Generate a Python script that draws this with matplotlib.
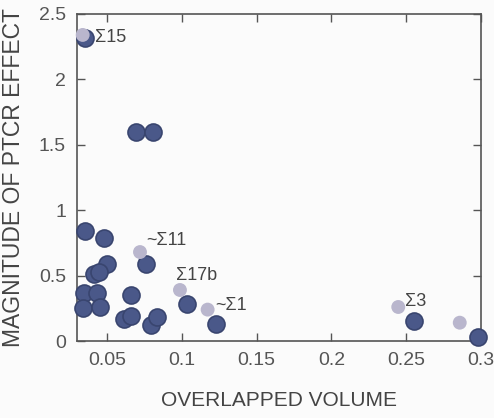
import matplotlib
matplotlib.use("Agg")
import matplotlib.pyplot as plt

plt.rcParams['font.family'] = ['Liberation Sans', 'DejaVu Sans']

# --- データ: 濃い点 (計算値) ---
dark_x = [0.0353, 0.0694, 0.0808, 0.0353, 0.0478, 0.0759, 0.0502, 0.0416, 0.0449,
          0.0347, 0.0431, 0.0661, 0.0338, 0.0454, 0.0616, 0.0661, 0.0792, 0.0832,
          0.1033, 0.1226, 0.2554, 0.2977]
dark_y = [2.32, 1.60, 1.60, 0.84, 0.79, 0.59, 0.59, 0.51, 0.53,
          0.37, 0.37, 0.35, 0.25, 0.26, 0.17, 0.19, 0.12, 0.18,
          0.28, 0.13, 0.15, 0.03]

# --- データ: 薄い点 ---
light_x = [0.0338, 0.0721, 0.0988, 0.1173, 0.2447, 0.2858]
light_y = [2.34, 0.68, 0.39, 0.24, 0.26, 0.14]

# --- ラベル ---
labels = ["Σ15", "~Σ11", "Σ17b", "~Σ1", "Σ3"]
label_x = [0.0420, 0.0760, 0.0960, 0.1225, 0.2495]
label_y = [2.32, 0.77, 0.50, 0.275, 0.30]

text_col = '#444444'
fig = plt.figure(figsize=(4.94, 4.18), dpi=100, facecolor='#fbfbfb')
ax = fig.add_axes([77 / 494, 1 - 341 / 418, 404 / 494, 327 / 418])
ax.set_facecolor('#fbfbfb')

ax.scatter(dark_x, dark_y, s=150, color='#4a5889', edgecolors='#39456f',
           linewidths=1.2, zorder=3, clip_on=False)
ax.scatter(light_x, light_y, s=100, color='#b9b6cd', edgecolors='none',
           zorder=4, clip_on=False)

for t, x, y in zip(labels, label_x, label_y):
    ax.text(x, y, t, fontsize=13, color=text_col, va='center', ha='left', zorder=5)

ax.set_xlim(0.03, 0.3)
ax.set_ylim(0, 2.5)
ax.set_xticks([0.05, 0.1, 0.15, 0.2, 0.25, 0.3])
ax.set_xticklabels(["0.05", "0.1", "0.15", "0.2", "0.25", "0.3"])
ax.set_yticks([0, 0.5, 1, 1.5, 2, 2.5])
ax.set_yticklabels(["0", "0.5", "1", "1.5", "2", "2.5"])

ax.tick_params(direction='in', top=True, right=True, length=6, width=1,
               color='#555555', labelsize=14, labelcolor='#555555', pad=8)
for s in ax.spines.values():
    s.set_color('#555555')
    s.set_linewidth(1.2)

ax.set_xlabel("OVERLAPPED VOLUME", fontsize=15, color=text_col, labelpad=16)
ax.set_ylabel("MAGNITUDE OF PTCR EFFECT", fontsize=16.5, color=text_col, labelpad=10)

plt.savefig("out.png", dpi=100, facecolor=fig.get_facecolor())
